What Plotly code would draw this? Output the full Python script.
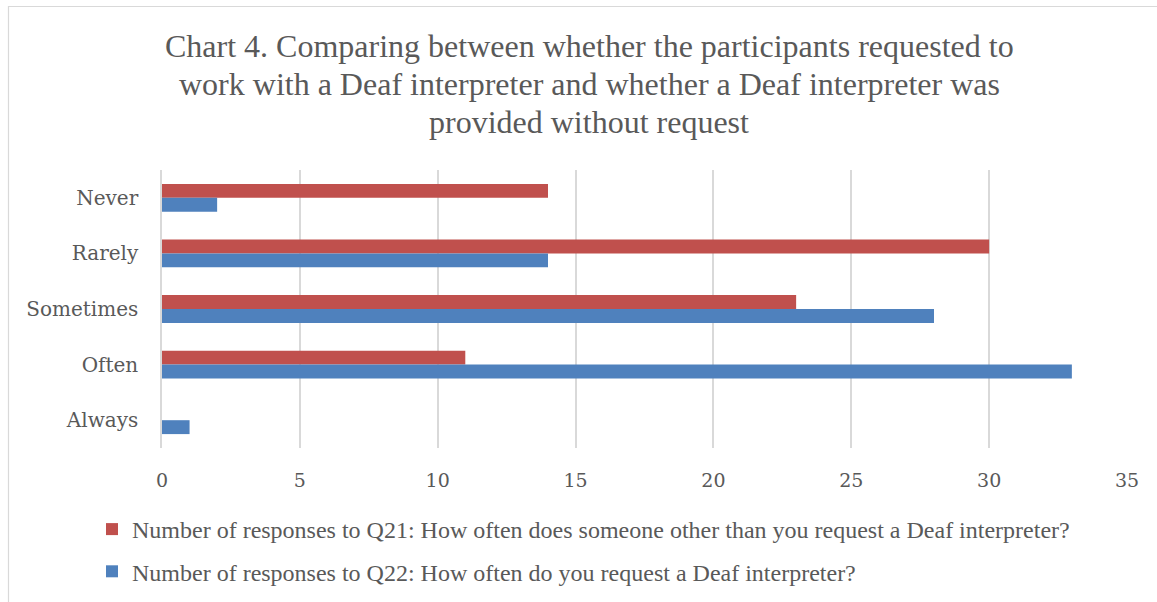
import plotly.graph_objects as go

categories = ["Never", "Rarely", "Sometimes", "Often", "Always"]
q21_values = [14, 30, 23, 11, 0]
q22_values = [2, 14, 28, 33, 1]
q21_name = "Number of responses to Q21: How often does someone other than you request a Deaf interpreter?"
q22_name = "Number of responses to Q22: How often do you request a Deaf interpreter?"
x_ticks = [0, 5, 10, 15, 20, 25, 30, 35]
title_lines = [
    "Chart 4. Comparing between whether the participants requested to",
    "work with a Deaf interpreter and whether a Deaf interpreter was",
    "provided without request",
]

TEXT = "#595959"
GRID = "#d9d9d9"
SERIF = "Liberation Serif, Times New Roman, serif"
TICK_FONT = "DejaVu Serif, Cambria, serif"

W, H = 1157, 602
L, R, T, B = 162, 30, 170, 154
pw, ph = W - L - R, H - T - B


def px_x(p):
    return (p - L) / pw


def px_y(p):
    return (H - B - p) / ph


fig = go.Figure()
fig.add_trace(go.Bar(
    y=categories, x=q21_values, name=q21_name, orientation="h",
    marker=dict(color="#c0504d", line=dict(width=0)), legendgroup="a",
))
fig.add_trace(go.Bar(
    y=categories, x=q22_values, name=q22_name, orientation="h",
    marker=dict(color="#4f81bd", line=dict(width=0)), legendgroup="b",
))

# Three-line chart title, tighter line spacing than the default title
title_annotations = [
    dict(
        text=line, xref="paper", yref="paper",
        x=px_x(589), y=px_y(46 + 38 * i), xanchor="center", yanchor="middle",
        showarrow=False, font=dict(family=SERIF, size=32, color=TEXT),
    )
    for i, line in enumerate(title_lines)
]

fig.update_layout(
    width=W, height=H,
    margin=dict(l=L, r=R, t=T, b=B, autoexpand=False),
    paper_bgcolor="white", plot_bgcolor="white",
    barmode="group", bargap=0.5, bargroupgap=0,
    annotations=title_annotations,
    xaxis=dict(
        range=[0, 35], tickvals=x_ticks, showgrid=True, gridcolor=GRID, gridwidth=1.5,
        zeroline=False, showline=False, ticks="",
        tickfont=dict(family=TICK_FONT, size=19, color=TEXT),
        ticklabelstandoff=19,
    ),
    yaxis=dict(
        categoryorder="array", categoryarray=categories, autorange="reversed",
        showgrid=False, zeroline=False, showline=True, linecolor=GRID, linewidth=1.5,
        ticks="", tickfont=dict(family=TICK_FONT, size=20, color=TEXT),
        ticklabelstandoff=18,
    ),
    legend=dict(
        orientation="v", x=px_x(92), xanchor="left", y=px_y(507), yanchor="top",
        font=dict(family=SERIF, size=24, color=TEXT),
        tracegroupgap=8, itemwidth=30, bgcolor="rgba(0,0,0,0)",
    ),
    shapes=[dict(
        type="rect", xref="paper", yref="paper",
        x0=px_x(8.5), x1=px_x(1175), y0=px_y(620), y1=px_y(6.5),
        line=dict(color=GRID, width=1.2), fillcolor="rgba(0,0,0,0)", layer="below",
    )],
)

fig.write_html("out.html")
